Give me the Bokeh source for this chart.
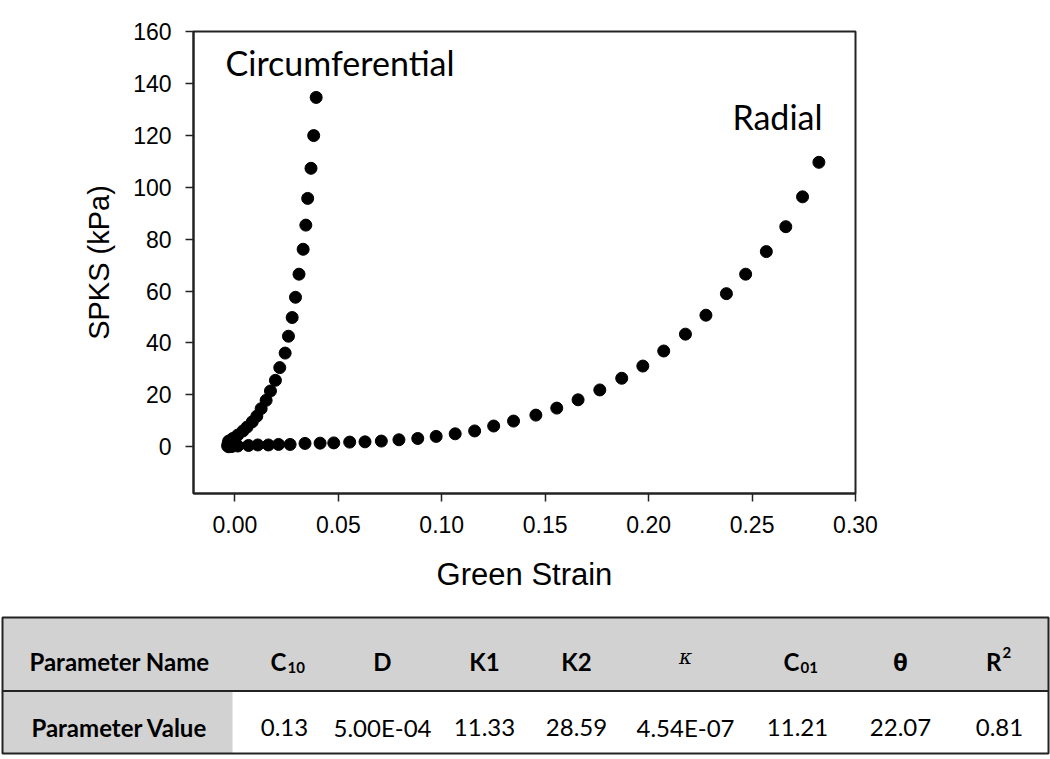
from bokeh.plotting import figure
from bokeh.models import Range1d, FixedTicker, NumeralTickFormatter, ColumnDataSource
from bokeh.core.properties import value
from bokeh.embed import file_html
from bokeh.resources import INLINE

# ---------------- data ----------------
circ_strain = [-0.0035, -0.0033, -0.0030, -0.0010, 0.0014, 0.0039, 0.0059, 0.0084,
               0.0106, 0.0127, 0.0151, 0.0172, 0.0196, 0.0217, 0.0243, 0.0259,
               0.0277, 0.0293, 0.0310, 0.0330, 0.0343, 0.0352, 0.0368, 0.0381, 0.0393]
circ_stress = [0.3, 1.2, 2.2, 3.2, 4.5, 6.1, 7.6, 9.6,
               11.8, 14.7, 17.9, 21.5, 25.6, 30.5, 36.1, 42.6,
               49.8, 57.6, 66.5, 76.1, 85.4, 95.7, 107.3, 119.9, 134.6]

radial_strain = [-0.0030, -0.0015, 0.0014, 0.0066, 0.0111, 0.0162, 0.0211, 0.0267,
                 0.0339, 0.0412, 0.0478, 0.0555, 0.0629, 0.0708, 0.0793, 0.0884,
                 0.0973, 0.1065, 0.1159, 0.1251, 0.1347, 0.1455, 0.1556, 0.1659,
                 0.1764, 0.1870, 0.1972, 0.2073, 0.2178, 0.2277, 0.2376, 0.2469,
                 0.2569, 0.2663, 0.2744, 0.2823]
radial_stress = [0.0, 0.1, 0.3, 0.5, 0.7, 0.7, 0.9, 0.9,
                 1.3, 1.4, 1.5, 1.8, 1.9, 2.2, 2.7, 3.2,
                 4.0, 5.0, 6.1, 8.0, 9.9, 12.2, 14.9, 18.1,
                 21.9, 26.4, 31.1, 36.9, 43.4, 50.7, 59.0, 66.5,
                 75.2, 84.8, 96.3, 109.6]

x_ticks = [0.0, 0.05, 0.10, 0.15, 0.20, 0.25, 0.30]
y_ticks = [0, 20, 40, 60, 80, 100, 120, 140, 160]

row_labels = ["Parameter Name", "Parameter Value"]
param_names = ["C", "D", "K1", "K2", "\u03ba", "C", "\u03b8", "R"]
param_subs = ["10", "", "", "", "", "01", "", ""]
param_sups = ["", "", "", "", "", "", "", "2"]
param_values = ["0.13", "5.00E-04", "11.33", "28.59", "4.54E-07", "11.21", "22.07", "0.81"]

# ---------------- chart ----------------
W = 1050
p = figure(width=W, height=610,
           x_range=Range1d(-0.02, 0.30), y_range=Range1d(-18, 160),
           output_backend="svg", toolbar_location=None,
           min_border_left=193, min_border_right=195,
           min_border_top=31, min_border_bottom=117)
p.grid.visible = False
p.outline_line_color = "#222222"
p.outline_line_width = 2
p.background_fill_color = "white"
p.border_fill_color = "white"

for ax in (p.xaxis[0], p.yaxis[0]):
    ax.axis_line_color = "#222222"
    ax.axis_line_width = 2
    ax.major_tick_line_color = "#222222"
    ax.major_tick_line_width = 1.5
    ax.major_tick_out = 8
    ax.major_tick_in = 0
    ax.minor_tick_out = 0
    ax.minor_tick_in = 0
    ax.major_label_text_font = "Liberation Sans"
    ax.major_label_text_font_size = "23px"
    ax.major_label_text_color = "black"
    ax.axis_label_text_font = "Liberation Sans"
    ax.axis_label_text_font_style = "normal"
    ax.axis_label_text_color = "black"

p.xaxis.ticker = FixedTicker(ticks=x_ticks)
p.xaxis.formatter = NumeralTickFormatter(format="0.00")
p.yaxis.ticker = FixedTicker(ticks=y_ticks)
p.xaxis.major_label_standoff = 14
p.yaxis.major_label_standoff = 14
p.xaxis.axis_label = "Green Strain"
p.yaxis.axis_label = "SPKS (kPa)"
p.xaxis.axis_label_text_font_size = "31px"
p.yaxis.axis_label_text_font_size = "29px"
p.xaxis.axis_label_standoff = 21
p.yaxis.axis_label_standoff = 15

p.scatter(radial_strain, radial_stress, size=12, color="black")
p.scatter(circ_strain, circ_stress, size=12, color="black")

p.text(x=[-0.0045], y=[148.0], text=["Circumferential"], text_font=value("Lato"),
       text_font_size="34px", text_baseline="alphabetic", text_align="left", text_color="black")
p.text(x=[0.2405], y=[127.3], text=["Radial"], text_font=value("Lato"),
       text_font_size="34px", text_baseline="alphabetic", text_align="left", text_color="black")

# ---------------- table ----------------
TH = 148
t = figure(width=W, height=TH, x_range=Range1d(0, W), y_range=Range1d(TH, 0),
           output_backend="svg", toolbar_location=None,
           x_axis_type=None, y_axis_type=None, min_border=0)
t.grid.visible = False
t.outline_line_color = None
t.background_fill_color = "white"
t.border_fill_color = "white"

left, right = 2, 1048
top, mid, bot = 7, 80.5, 143
first_w = 232
centers = [284, 382, 484, 576, 685, 797, 900, 999]
n = len(param_names)

grey = "#d2d2d2"
t.quad(left=[left], right=[right], top=[top], bottom=[mid], fill_color=grey, line_color=None)
t.quad(left=[left], right=[first_w], top=[mid], bottom=[bot], fill_color=grey, line_color=None)
t.quad(left=[left], right=[right], top=[top], bottom=[bot], fill_color=None,
       line_color="#222222", line_width=2)
t.segment(x0=[left], x1=[right], y0=[mid], y1=[mid], line_color="#222222", line_width=2)

hdr_base = 51
val_base = 117
lab_x = (left + first_w) / 2 + 2
t.text(x=[lab_x], y=[hdr_base], text=[row_labels[0]], text_font=value("Lato"),
       text_font_style="bold", text_font_size="24px", text_align="center", text_baseline="alphabetic")
t.text(x=[lab_x], y=[val_base], text=[row_labels[1]], text_font=value("Lato"),
       text_font_style="bold", text_font_size="24px", text_align="center", text_baseline="alphabetic")

for i, (nm, sb, sp) in enumerate(zip(param_names, param_subs, param_sups)):
    cx = centers[i]
    if nm == "\u03ba":
        t.text(x=[cx], y=[hdr_base - 5], text=[nm], text_font=value("DejaVu Serif"),
               text_font_style="italic", text_font_size="20px", text_align="center",
               text_baseline="alphabetic")
    elif sb or sp:
        t.text(x=[cx + 2], y=[hdr_base], text=[nm], text_font=value("Lato"),
               text_font_style="bold", text_font_size="24px", text_align="right",
               text_baseline="alphabetic")
        if sb:
            t.text(x=[cx + 3], y=[hdr_base + 6], text=[sb], text_font=value("Lato"),
                   text_font_style="bold", text_font_size="15px", text_align="left",
                   text_baseline="alphabetic")
        if sp:
            t.text(x=[cx + 3], y=[hdr_base - 9], text=[sp], text_font=value("Lato"),
                   text_font_style="bold", text_font_size="15px", text_align="left",
                   text_baseline="alphabetic")
    else:
        fnt = "Open Sans" if nm == "\u03b8" else "Lato"
        t.text(x=[cx], y=[hdr_base], text=[nm], text_font=value(fnt),
               text_font_style="bold", text_font_size="24px", text_align="center",
               text_baseline="alphabetic")

src = ColumnDataSource(dict(x=centers, y=[val_base] * n, t=param_values))
t.text(x="x", y="y", text="t", source=src, text_font=value("Lato"),
       text_font_size="24px", text_align="center", text_baseline="alphabetic")

open("out.html", "w").write(file_html([p, t], INLINE))
